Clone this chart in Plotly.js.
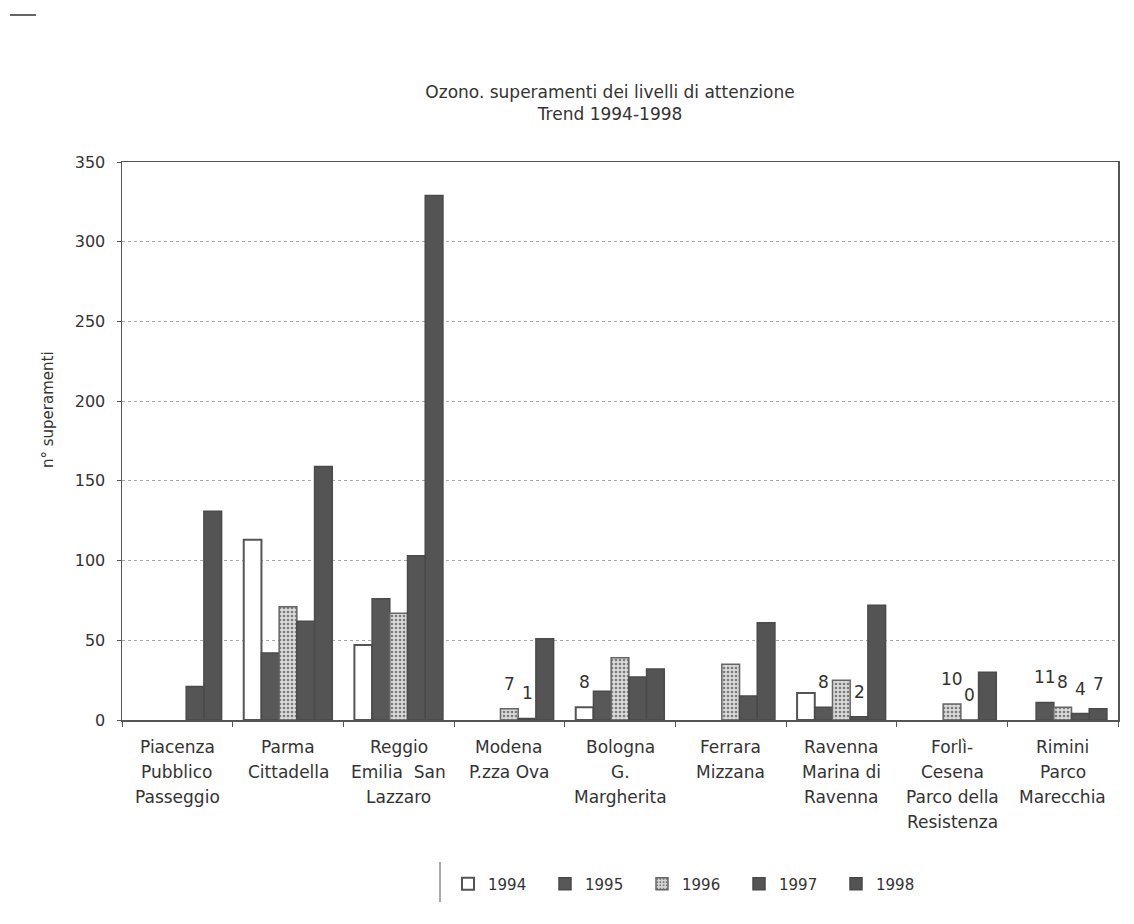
<!DOCTYPE html>
<html>
<head>
<meta charset="utf-8">
<script src="https://cdn.plot.ly/plotly-3.0.1.min.js"></script>
<style>html,body{margin:0;padding:0;background:#fff;}#chart{width:1134px;height:924px;}</style>
</head>
<body>
<div id="chart"></div>
<script>
// ---- data ----
const categoryLines = [
  ["Piacenza", "Pubblico", "Passeggio"],
  ["Parma", "Cittadella"],
  ["Reggio", "Emilia  San", "Lazzaro"],
  ["Modena", "P.zza Ova"],
  ["Bologna", "G.", "Margherita"],
  ["Ferrara", "Mizzana"],
  ["Ravenna", "Marina di", "Ravenna"],
  ["Forlì-", "Cesena", "Parco della", "Resistenza"],
  ["Rimini", "Parco", "Marecchia"]
];
const categories = categoryLines.map(l => l.join(" "));
const years = ["1994", "1995", "1996", "1997", "1998"];
const v1994 = [null, 113, 47, null, 8, null, 17, null, null];
const v1995 = [null, 42, 76, null, 18, null, 8, null, 11];
const v1996 = [null, 71, 67, 7, 39, 35, 25, 10, 8];
const v1997 = [21, 62, 103, 1, 27, 15, 2, 0, 4];
const v1998 = [131, 159, 329, 51, 32, 61, 72, 30, 7];
// which bars carry a value label (1 = labelled)
const lab1994 = [0, 0, 0, 0, 1, 0, 0, 0, 0];
const lab1995 = [0, 0, 0, 0, 0, 0, 1, 0, 1];
const lab1996 = [0, 0, 0, 1, 0, 0, 0, 1, 1];
const lab1997 = [0, 0, 0, 1, 0, 0, 1, 1, 1];
const lab1998 = [0, 0, 0, 0, 0, 0, 0, 0, 1];
const yTicks = [0, 50, 100, 150, 200, 250, 300, 350];

const seriesValues = [v1994, v1995, v1996, v1997, v1998];
const seriesLabels = [lab1994, lab1995, lab1996, lab1997, lab1998];

// ---- style ----
const FONT = "DejaVu Sans, Arial, sans-serif";
const TXT = "#333";
const W = 1134, H = 924;
const M = {l: 122, r: 16, t: 162, b: 204};
const plotW = W - M.l - M.r, plotH = H - M.t - M.b;
const BARGAP = 0.2;
const bw = plotW / categories.length * (1 - BARGAP) / years.length;

const styles = [
  {color: "#ffffff", line: {color: "#555", width: 2}},
  {color: "#585858", line: {color: "#4a4a4a", width: 1.5}},
  {color: "#d4d4d4", line: {color: "#666", width: 1.5},
   pattern: {shape: ".", bgcolor: "#dadada", fgcolor: "#7a7a7a", size: 4, solidity: 0.35}},
  {color: "#555555", line: {color: "#4a4a4a", width: 1.5}},
  {color: "#545454", line: {color: "#4a4a4a", width: 1.5}}
];

const traces = years.map((y, i) => ({
  type: "bar",
  name: y,
  x: categories,
  y: seriesValues[i],
  marker: styles[i],
  hoverinfo: "x+y+name"
}));

const annotations = [];
// value labels
seriesValues.forEach((vals, i) => {
  vals.forEach((v, j) => {
    if (seriesLabels[i][j] && v !== null) {
      annotations.push({
        x: categories[j], y: v, xref: "x", yref: "y",
        text: String(v), showarrow: false,
        xshift: (i - (years.length - 1) / 2) * bw, yshift: 25,
        yanchor: "middle",
        font: {family: FONT, size: 17, color: TXT}
      });
    }
  });
});
// category labels (multi-line)
categoryLines.forEach((lines, j) => {
  lines.forEach((ln, k) => {
    annotations.push({
      x: categories[j], xref: "x", yref: "paper",
      y: -(27 + 25 * k) / plotH, yanchor: "middle",
      text: ln, showarrow: false,
      font: {family: FONT, size: 17, color: TXT}
    });
  });
});
// y axis title
annotations.push({
  xref: "paper", yref: "paper", x: (48 - M.l) / plotW, y: (H - M.b - 410) / plotH,
  text: "n° superamenti", textangle: -90, showarrow: false,
  xanchor: "center", yanchor: "middle",
  font: {family: FONT, size: 15, color: TXT}
});

const layout = {
  width: W, height: H,
  margin: M,
  paper_bgcolor: "#ffffff",
  plot_bgcolor: "#ffffff",
  barmode: "group",
  bargap: BARGAP,
  bargroupgap: 0,
  title: {
    text: "Ozono. superamenti dei livelli di attenzione<br>Trend 1994-1998",
    font: {family: FONT, size: 17, color: TXT},
    xref: "paper", x: 0.49, xanchor: "center",
    yref: "container", y: 1 - 98 / H, yanchor: "middle"
  },
  xaxis: {
    type: "category",
    showticklabels: false,
    ticks: "outside", tickson: "boundaries", ticklen: 5, tickcolor: "#555",
    showline: true, linecolor: "#555", linewidth: 1.5, mirror: true,
    showgrid: false, zeroline: false
  },
  yaxis: {
    range: [0, 350],
    tickvals: yTicks,
    ticks: "outside", ticklen: 4, tickcolor: "#555",
    tickfont: {family: FONT, size: 16, color: TXT},
    ticklabelstandoff: 8,
    showline: true, linecolor: "#555", linewidth: 1.5, mirror: true,
    showgrid: true, gridcolor: "#aaaaaa", griddash: "dot", gridwidth: 1,
    zeroline: false
  },
  showlegend: true,
  legend: {
    orientation: "h",
    x: (448 - M.l) / plotW, xanchor: "left",
    y: -(884 - (H - M.b)) / plotH, yanchor: "middle",
    entrywidth: 52, entrywidthmode: "pixels",
    itemwidth: 30,
    font: {family: FONT, size: 15, color: TXT},
    bgcolor: "rgba(0,0,0,0)",
    traceorder: "normal"
  },
  shapes: [
    {type: "line", xref: "paper", yref: "paper",
     x0: (440 - M.l) / plotW, x1: (440 - M.l) / plotW,
     y0: -(862 - (H - M.b)) / plotH, y1: -(902 - (H - M.b)) / plotH,
     line: {color: "#555", width: 1}},
    {type: "line", xref: "paper", yref: "paper",
     x0: (10 - M.l) / plotW, x1: (36 - M.l) / plotW,
     y0: ((H - M.b) - 15) / plotH, y1: ((H - M.b) - 15) / plotH,
     line: {color: "#333", width: 1.5}}
  ],
  annotations: annotations
};

Plotly.newPlot("chart", traces, layout, {displayModeBar: false, staticPlot: true});
</script>
</body>
</html>
